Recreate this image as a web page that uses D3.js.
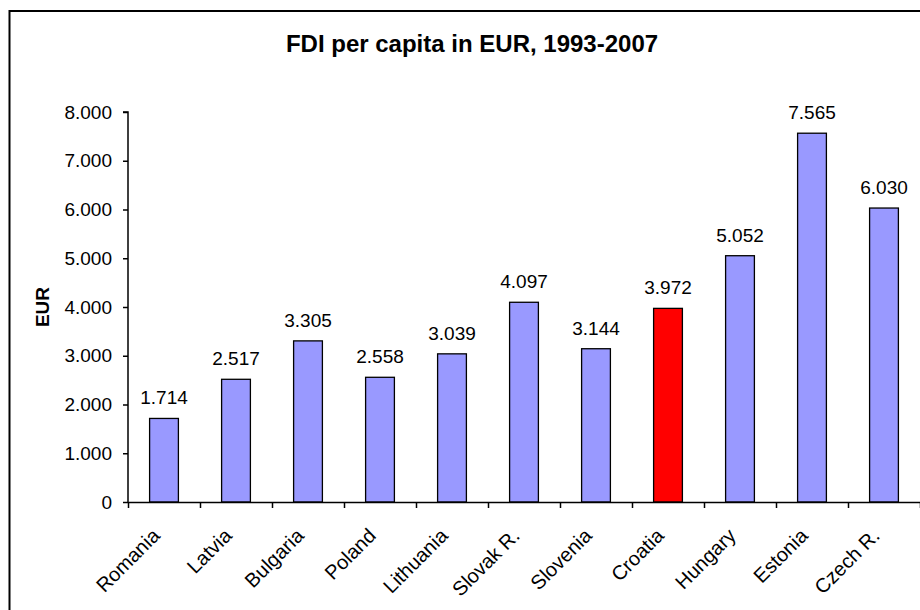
<!DOCTYPE html>
<html>
<head>
<meta charset="utf-8">
<script src="https://cdn.jsdelivr.net/npm/d3@7"></script>
<style>
  body { margin: 0; background: #fff; }
  svg { display: block; font-family: "Liberation Sans", Arial, sans-serif; }
  .axis path, .axis line { stroke: #000; stroke-width: 1.5; }
  .axis text { font-size: 19px; fill: #000; }
</style>
</head>
<body>
<div id="chart"></div>
<script>
const countries = ['Romania', 'Latvia', 'Bulgaria', 'Poland', 'Lithuania', 'Slovak R.',
  'Slovenia', 'Croatia', 'Hungary', 'Estonia', 'Czech R.'];
const fdiValues = [1714, 2517, 3305, 2558, 3039, 4097, 3144, 3972, 5052, 7565, 6030];
const highlighted = ['Croatia'];
const yTicks = [0, 1000, 2000, 3000, 4000, 5000, 6000, 7000, 8000];

const svgWidth = 920;
const svgHeight = 610;

const svg = d3.select('#chart')
  .append('svg')
    .attr('width', svgWidth)
    .attr('height', svgHeight);

// outer chart frame, only left and top edges are visible in the picture
svg.append('path')
  .attr('d', `M9.5,${svgHeight}V11H${svgWidth}`)
  .attr('fill', 'none')
  .attr('stroke', '#000')
  .attr('stroke-width', 2);

const margin = { top: 112, left: 128, right: 0, bottom: 108 };
const innerWidth = svgWidth - margin.left - margin.right;
const innerHeight = svgHeight - margin.top - margin.bottom;

const fmt = d3.formatLocale({ decimal: ',', thousands: '.', grouping: [3], currency: ['', ''] }).format(',');

const data = countries.map((c, i) => ({ country: c, value: fdiValues[i] }));

const xScale = d3.scaleBand()
  .domain(countries)
  .range([0, innerWidth])
  .paddingInner(0.6)
  .paddingOuter(0.3);

const xBoundary = d3.scaleLinear()
  .domain([0, countries.length])
  .range([0, innerWidth]);

const yScale = d3.scaleLinear()
  .domain([0, 8000])
  .range([innerHeight, 0]);

const g = svg.append('g')
  .attr('transform', `translate(${margin.left},${margin.top})`);

// bars
g.selectAll('rect.bar').data(data)
  .enter().append('rect')
    .attr('class', 'bar')
    .attr('x', d => xScale(d.country))
    .attr('y', d => yScale(d.value))
    .attr('width', xScale.bandwidth())
    .attr('height', d => innerHeight - yScale(d.value))
    .attr('fill', d => highlighted.includes(d.country) ? '#FF0000' : '#9999FF')
    .attr('stroke', '#000')
    .attr('stroke-width', 1.3);

// value labels
g.selectAll('text.val').data(data)
  .enter().append('text')
    .attr('class', 'val')
    .attr('x', d => xScale(d.country) + xScale.bandwidth() / 2)
    .attr('y', d => yScale(d.value) - 14)
    .attr('text-anchor', 'middle')
    .attr('font-size', 19)
    .text(d => fmt(d.value));

// y axis
const yAxisG = g.append('g')
  .attr('class', 'axis')
  .call(d3.axisLeft(yScale)
    .tickValues(yTicks)
    .tickSize(5)
    .tickPadding(11)
    .tickFormat(fmt));
yAxisG.select('.domain').attr('d', `M0,${innerHeight}V0H-5`);

// x axis: ticks at category boundaries
const xAxisG = g.append('g')
  .attr('class', 'axis')
  .attr('transform', `translate(0,${innerHeight})`)
  .call(d3.axisBottom(xBoundary)
    .tickValues(d3.range(countries.length + 1))
    .tickSize(6)
    .tickSizeOuter(0)
    .tickFormat(''));

// category labels
g.selectAll('text.cat').data(countries)
  .enter().append('text')
    .attr('class', 'cat')
    .attr('transform', d => `translate(${xScale(d) + xScale.bandwidth() / 2 - 3},${innerHeight + 35}) rotate(-45)`)
    .attr('text-anchor', 'end')
    .attr('font-size', 20)
    .text(d => d);

// y axis label
svg.append('text')
  .attr('transform', `translate(49,${margin.top + innerHeight / 2}) rotate(-90)`)
  .attr('text-anchor', 'middle')
  .attr('font-size', 19)
  .attr('font-weight', 'bold')
  .text('EUR');

// title
svg.append('text')
  .attr('x', 472)
  .attr('y', 52)
  .attr('text-anchor', 'middle')
  .attr('font-size', 24)
  .attr('font-weight', 'bold')
  .text('FDI per capita in EUR, 1993-2007');
</script>
</body>
</html>
